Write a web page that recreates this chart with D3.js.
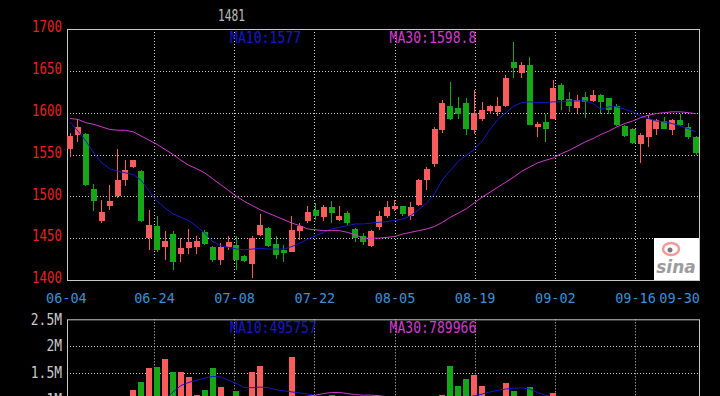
<!DOCTYPE html>
<html lang="zh">
<head>
<meta charset="UTF-8">
<title>K线图</title>
<script src="https://d3js.org/d3.v7.min.js"></script>
<style>
  body { margin: 0; background: #000; overflow: hidden; }
  svg { display: block; }
  text { font-family: "DejaVu Sans Mono", monospace; }
</style>
</head>
<body>
<div id="chart"></div>
<script>
// 日K数据
const opens = [1556,1573,1574,1509,1470,1488,1500,1520,1535,1530, 1450,1465,1440,1455,1431,1438,1440,1457,1439,1424,
               1439,1442,1429,1419,1454,1462,1443,1436,1434,1459, 1471,1484,1475,1487,1472,1480,1461,1453,1441,1463,
               1476,1485,1488,1476,1490,1519,1539,1579,1608,1606, 1612,1579,1593,1602,1601,1608,1661,1648,1657,1583,
               1589,1593,1633,1616,1605,1619,1614,1621,1617,1608, 1584,1581,1563,1571,1581,1590,1579,1591,1583,1571];
const closes = [1572,1583,1514,1495,1481,1495,1519,1531,1543,1470, 1466,1436,1447,1422,1438,1445,1447,1443,1424,1440,
                1445,1424,1423,1450,1466,1441,1430,1432,1460,1465, 1481,1477,1487,1480,1476,1468,1450,1446,1459,1476,
                1487,1489,1479,1487,1520,1533,1581,1612,1592,1599, 1581,1600,1603,1608,1608,1642,1653,1657,1585,1587,
                1581,1629,1615,1608,1615,1613,1621,1613,1603,1585, 1572,1564,1573,1593,1591,1581,1591,1585,1571,1552];
const highs = [1576,1592,1576,1515,1496,1513,1556,1543,1544,1532, 1484,1477,1458,1458,1450,1461,1453,1460,1441,1444,
               1452,1452,1430,1453,1479,1463,1452,1442,1476,1468, 1488,1492,1490,1495,1488,1482,1462,1456,1460,1482,
               1494,1496,1489,1493,1521,1535,1583,1615,1637,1619, 1617,1627,1613,1609,1619,1645,1684,1661,1666,1589,
               1599,1639,1636,1625,1621,1625,1627,1622,1618,1610, 1585,1582,1576,1597,1593,1595,1593,1599,1588,1572];
const lows = [1547,1565,1512,1482,1468,1484,1498,1512,1534,1469, 1436,1434,1424,1412,1422,1431,1431,1442,1422,1418,
              1436,1412,1422,1402,1452,1440,1425,1421,1433,1448, 1468,1472,1471,1468,1471,1466,1446,1442,1440,1460,
              1474,1482,1476,1472,1488,1508,1535,1576,1591,1593, 1573,1575,1590,1598,1596,1607,1642,1641,1585,1571,
              1565,1592,1603,1601,1600,1594,1613,1599,1599,1584, 1571,1562,1540,1559,1573,1580,1573,1584,1569,1549];
const ma10 = [1589,1578,1566,1552,1540,1533,1530,1528,1526,1519, 1506,1494,1486,1479,1475,1471,1464,1456,1446,1441,
              1439,1437,1436,1437,1438,1437,1437,1437,1440,1444, 1449,1453,1457,1461,1463,1465,1467,1467,1468,1469,
              1470,1471,1473,1477,1484,1492,1503,1520,1531,1542, 1549,1556,1566,1580,1592,1600,1608,1612,1613,1612,
              1612,1613,1613,1614,1614,1614,1611,1604,1607,1607, 1604,1601,1596,1593,1590,1589,1587,1584,1581,1577];
const ma30 = [1593,1592,1588,1586,1583,1580,1579,1579,1577,1572, 1567,1562,1556,1550,1543,1537,1533,1528,1521,1514,
              1507,1500,1494,1489,1484,1480,1476,1472,1468,1465, 1461,1460,1459,1459,1459,1457,1454,1450,1450,1450,
              1451,1452,1455,1457,1459,1461,1464,1469,1475,1480, 1485,1492,1499,1505,1511,1517,1523,1530,1535,1540,
              1543,1546,1551,1555,1560,1565,1569,1574,1578,1583, 1587,1590,1594,1597,1599,1600,1601,1601,1600,1598.8];
// 成交量（百万）
const volumes = [0.82,0.75,0.90,0.68,0.62,0.58,0.85,0.72,1.18,1.32, 1.59,1.61,1.75,1.51,1.51,1.42,1.09,1.18,1.59,1.23,
                 0.88,1.15,0.86,1.51,1.62,0.92,0.78,0.70,1.79,0.80, 0.72,0.66,0.74,1.09,0.58,0.70,0.80,0.66,0.90,0.76,
                 0.85,0.72,0.62,0.70,0.93,0.90,0.94,1.09,1.62,1.26, 1.38,1.45,1.26,0.92,0.88,1.30,1.15,0.90,1.23,0.80,
                 0.88,1.12,0.75,0.55,0.50,0.45,0.42,0.48,0.55,0.60, 0.62,0.58,0.55,0.60,0.45,0.42,0.48,0.40,0.44,0.42];
const volMa10 = [0.72,0.74,0.76,0.75,0.74,0.73,0.75,0.76,0.80,0.84, 0.90,0.96,1.00,1.14,1.26,1.32,1.36,1.40,1.43,1.42,
                 1.36,1.30,1.22,1.22,1.23,1.22,1.18,1.16,1.14,1.12, 1.10,1.07,1.03,0.98,0.92,0.86,0.82,0.78,0.76,0.74,
                 0.74,0.75,0.74,0.75,0.77,0.78,0.80,0.84,0.92,0.98, 1.03,1.07,1.10,1.14,1.17,1.195,1.21,1.215,1.195,1.13,
                 1.08,1.04,0.99,0.92,0.85,0.78,0.70,0.65,0.60,0.57, 0.55,0.53,0.52,0.51,0.52,0.51,0.50,0.50,0.50,0.496];
const volMa30 = [0.70,0.71,0.72,0.72,0.73,0.73,0.74,0.75,0.77,0.79, 0.81,0.84,0.86,0.88,0.90,0.92,0.93,0.95,0.97,0.98,
                 0.99,1.00,1.01,1.02,1.03,1.03,1.04,1.04,1.05,1.05, 1.06,1.08,1.11,1.13,1.13,1.11,1.09,1.08,1.08,1.07,
                 1.05,1.03,1.01,0.99,0.97,0.95,0.94,0.93,0.93,0.93, 0.94,0.95,0.95,0.94,0.94,0.94,0.93,0.92,0.92,0.91,
                 0.90,0.89,0.88,0.87,0.86,0.85,0.84,0.83,0.83,0.82, 0.82,0.81,0.81,0.80,0.80,0.80,0.79,0.79,0.79,0.79];

const dateLabels = ["06-04","06-24","07-08","07-22","08-05","08-19","09-02","09-16"];
const dateIdx = [0, 11, 21, 31, 41, 51, 61, 71];
const lastDate = "09-30";
const priceTicks = [1400, 1450, 1500, 1550, 1600, 1650, 1700];
const volTicks = [1, 1.5, 2, 2.5];
const title = "1481";
const maText = ["MA10:1577", "MA30:1598.8"];
const volMaText = ["MA10:495757", "MA30:789966"];

const W = 720, H = 396;
const left = 67, right = 699;
const pTop = 29, pBottom = 280;
const vTop = 319.3, vBottom = 452.8;
const RED = "#f85c5c", GREEN = "#17a617", BLUE = "#1818c8", PINK = "#d03cd0";

const svg = d3.select("#chart").append("svg")
    .attr("width", W).attr("height", H)
    .style("background", "#000");

const n = opens.length;
const x = d3.scaleBand().domain(d3.range(n)).range([66, 700]);
const dateX = d3.scaleLinear().domain([11, 71]).range([154, 635]);
const y = d3.scaleLinear().domain([1400, 1700]).range([pBottom, pTop]);
const yv = d3.scaleLinear().domain([0, 2.5]).range([vBottom, vTop]);

// 网格
function grid(g, yTop, yBot, hLines) {
    g.selectAll(".hg").data(hLines).enter().append("line")
        .attr("x1", left).attr("x2", right)
        .attr("y1", d => d).attr("y2", d => d)
        .attr("stroke", "#d0d0d0").attr("stroke-dasharray", "1,2");
    g.selectAll(".vg").data(dateIdx.slice(1)).enter().append("line")
        .attr("x1", d => Math.round(dateX(d)) + 0.5).attr("x2", d => Math.round(dateX(d)) + 0.5)
        .attr("y1", yTop).attr("y2", yBot)
        .attr("stroke", "#d0d0d0").attr("stroke-dasharray", "1,2");
    g.append("rect").attr("x", left + 0.5).attr("y", yTop + 0.5)
        .attr("width", right - left).attr("height", yBot - yTop)
        .attr("fill", "none").attr("stroke", "#c8c8c8");
}
grid(svg.append("g"), pTop, pBottom, priceTicks.slice(1, -1).map(d => Math.round(y(d)) + 0.5));
grid(svg.append("g"), vTop, vBottom, volTicks.slice(0, -1).map(d => Math.round(yv(d)) + 0.5));

// 价格坐标
const pAxis = svg.append("g").attr("transform", `translate(62,-2)`)
    .call(d3.axisLeft(y).tickValues(priceTicks).tickSize(0).tickPadding(0).tickFormat(d3.format("d")));
pAxis.select(".domain").remove();
pAxis.selectAll("text").attr("fill", "#e82222").style("font-size", "15px")
    .attr("textLength", 30).attr("lengthAdjust", "spacingAndGlyphs");

const vAxis = svg.append("g").attr("transform", `translate(62,0)`)
    .call(d3.axisLeft(yv).tickValues(volTicks).tickSize(0).tickPadding(0).tickFormat(d => d + "M"));
vAxis.select(".domain").remove();
vAxis.selectAll("text").attr("fill", "#c8c8c8").style("font-size", "15px")
    .attr("textLength", d => (String(d) + "M").length * 7.8).attr("lengthAdjust", "spacingAndGlyphs");

// 日期
const dateFont = 13.5;
const dAxis = svg.append("g").attr("transform", `translate(0,${pBottom + 13})`)
    .call(d3.axisBottom(dateX).tickValues(dateIdx).tickSize(0).tickPadding(0)
        .tickFormat((d, i) => dateLabels[i]));
dAxis.select(".domain").remove();
dAxis.selectAll("text").attr("fill", "#3c91d6").style("font-size", dateFont + "px").attr("dy", "0.71em");
svg.append("text").attr("x", right + 1).attr("y", pBottom + 13).attr("dy", "0.71em")
    .attr("text-anchor", "end")
    .attr("fill", "#3c91d6").style("font-size", dateFont + "px").text(lastDate);

// 标题
svg.append("text").attr("x", 231.5).attr("y", 21).attr("text-anchor", "middle")
    .attr("fill", "#bdbdbd").style("font-size", "16px")
    .attr("textLength", 27).attr("lengthAdjust", "spacingAndGlyphs").text(title);

// MA 标注
function maLabels(yb, texts) {
    [[230, BLUE], [389.5, PINK]].forEach(([tx, c], i) => {
        svg.append("text").attr("x", tx).attr("y", yb).attr("fill", c)
            .style("font-size", "15px")
            .attr("textLength", texts[i].length * 7.9).attr("lengthAdjust", "spacingAndGlyphs")
            .text(texts[i]);
    });
}
maLabels(42.8, maText);
maLabels(332.8, volMaText);

// 蜡烛
const cx = i => x(i) + 4;
const candles = svg.append("g").attr("shape-rendering", "crispEdges");
const idx = d3.range(n);
candles.selectAll(".wick").data(idx).enter().append("line")
    .attr("x1", cx).attr("x2", cx)
    .attr("y1", i => y(highs[i])).attr("y2", i => y(lows[i]))
    .attr("stroke", i => closes[i] >= opens[i] ? RED : GREEN);
candles.selectAll(".body").data(idx).enter().append("rect")
    .attr("x", i => x(i) + 1).attr("width", 6)
    .attr("y", i => y(Math.max(opens[i], closes[i])))
    .attr("height", i => Math.max(1, Math.abs(y(opens[i]) - y(closes[i]))))
    .attr("fill", i => closes[i] >= opens[i] ? RED : GREEN);

// 成交量
const vols = svg.append("g").attr("shape-rendering", "crispEdges");
vols.selectAll("rect").data(idx).enter().append("rect")
    .attr("x", i => x(i) + 1).attr("width", 6)
    .attr("y", i => yv(volumes[i]))
    .attr("height", i => vBottom - yv(volumes[i]))
    .attr("fill", i => closes[i] >= opens[i] ? RED : GREEN);

// 均线
function maLine(data, yy, color) {
    svg.append("path").datum(data)
        .attr("fill", "none").attr("stroke", color).attr("stroke-width", 1)
        .attr("d", d3.line().x((d, i) => cx(i)).y(d => yy(d)));
}
maLine(ma10, y, BLUE);
maLine(ma30, y, PINK);
maLine(volMa10, yv, BLUE);
maLine(volMa30, yv, PINK);

// sina 标志
const logo = svg.append("g");
logo.append("rect").attr("x", 654).attr("y", 238).attr("width", 45).attr("height", 42).attr("fill", "#fff");
logo.append("ellipse").attr("cx", 671).attr("cy", 249).attr("rx", 8).attr("ry", 6)
    .attr("fill", "none").attr("stroke", "#f29a9a").attr("stroke-width", 2.5);
logo.append("circle").attr("cx", 670).attr("cy", 250).attr("r", 2.5).attr("fill", "#777");
logo.append("text").attr("x", 676).attr("y", 273).attr("text-anchor", "middle")
    .attr("fill", "#9c9c9c").style("font-family", "DejaVu Sans").style("font-style", "italic")
    .style("font-weight", "bold").style("font-size", "17px").text("sina");
</script>
</body>
</html>
